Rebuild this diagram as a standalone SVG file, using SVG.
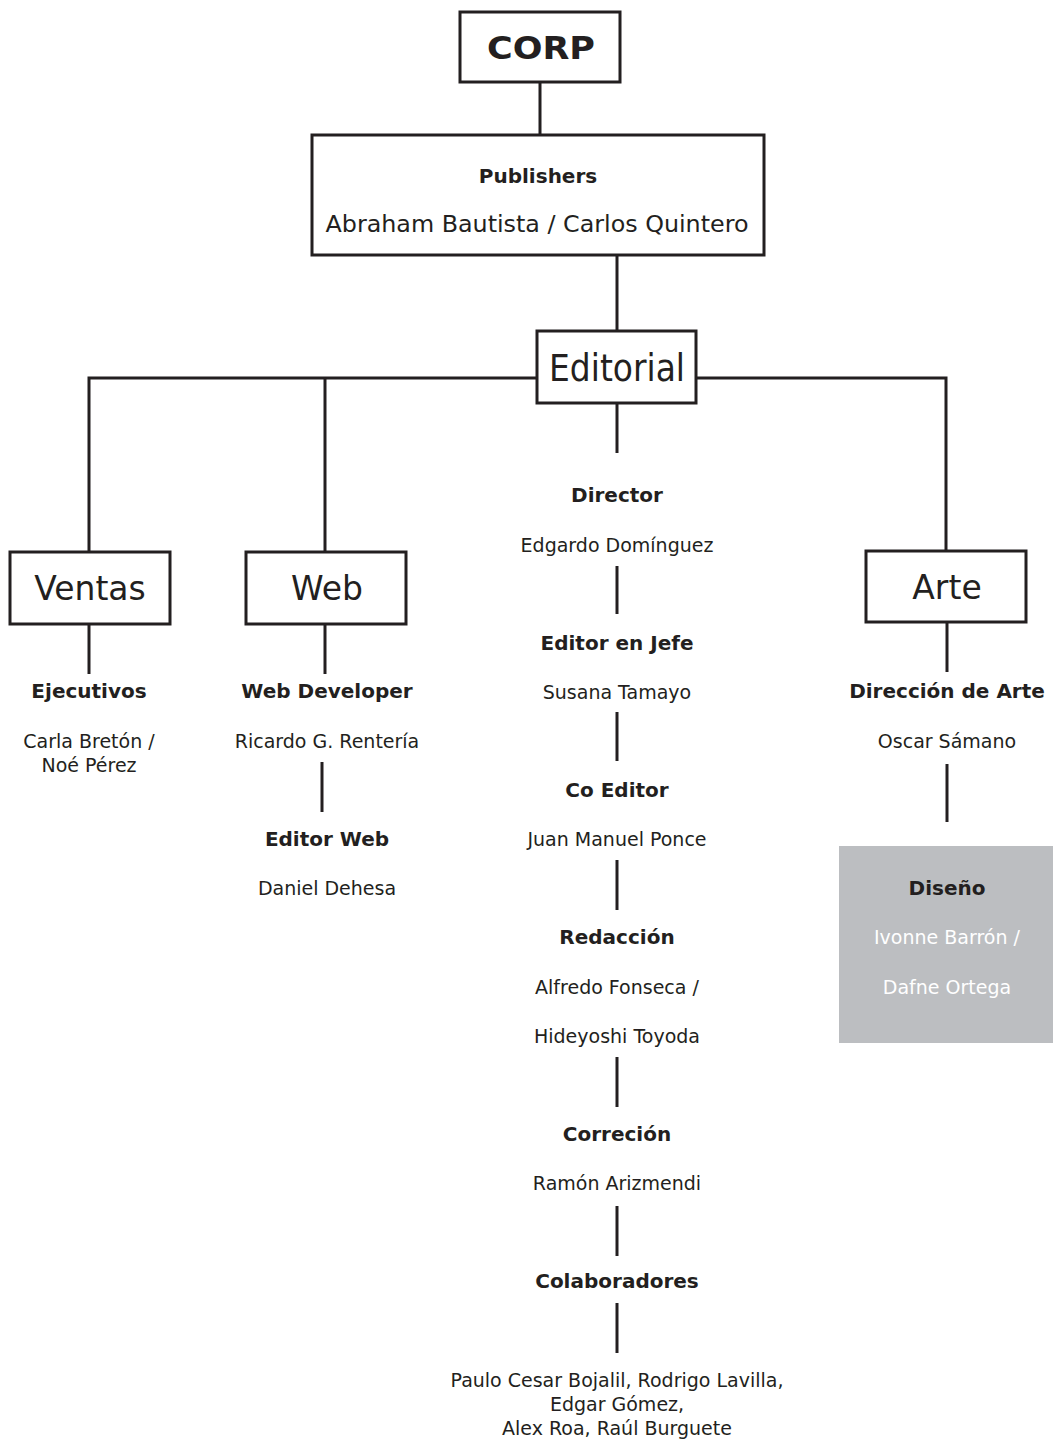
<svg xmlns="http://www.w3.org/2000/svg" width="1053" height="1441" viewBox="0 0 1053 1441">
<style>
.box{fill:#fff;stroke:#231f20;stroke-width:3}
.ln{stroke:#231f20;stroke-width:3;fill:none}
text{font-family:"DejaVu Sans","Liberation Sans",Arial,sans-serif;fill:#231f20;text-anchor:middle}
.h{font-weight:bold;font-size:20px}
.r{font-size:19px}
.big{font-size:33px}
.w{fill:#fff}
</style>
<rect width="1053" height="1441" fill="#fff"/>
<g id="connectors">
<line class="ln" x1="540" y1="82" x2="540" y2="135"/>
<line class="ln" x1="617" y1="255" x2="617" y2="331"/>
<polyline class="ln" points="89,551 89,378 537,378"/>
<line class="ln" x1="325" y1="378" x2="325" y2="551"/>
<polyline class="ln" points="696,378 946,378 946,551"/>
<line class="ln" x1="617" y1="403" x2="617" y2="453"/>
<line class="ln" x1="89" y1="624" x2="89" y2="674"/>
<line class="ln" x1="325" y1="624" x2="325" y2="674"/>
<line class="ln" x1="947" y1="622" x2="947" y2="672"/>
<line class="ln" x1="322" y1="762" x2="322" y2="812"/>
<line class="ln" x1="617" y1="566" x2="617" y2="614"/>
<line class="ln" x1="617" y1="712" x2="617" y2="761"/>
<line class="ln" x1="617" y1="860" x2="617" y2="910"/>
<line class="ln" x1="617" y1="1057" x2="617" y2="1107"/>
<line class="ln" x1="617" y1="1206" x2="617" y2="1256"/>
<line class="ln" x1="617" y1="1303" x2="617" y2="1353"/>
<line class="ln" x1="947" y1="764" x2="947" y2="822"/>
</g>
<g id="corp"><rect class="box" x="460" y="12" width="160" height="70"/><text x="541" y="59" style="font-weight:bold;font-size:32px" textLength="108" lengthAdjust="spacingAndGlyphs">CORP</text></g>
<g id="publishers"><rect class="box" x="312" y="135" width="452" height="120"/><text class="h" x="538" y="183">Publishers</text><text x="537" y="232" style="font-size:23px" textLength="423" lengthAdjust="spacingAndGlyphs">Abraham Bautista / Carlos Quintero</text></g>
<g id="editorial"><rect class="box" x="537" y="331" width="159" height="72"/><text x="617" y="381" style="font-size:37px" textLength="136" lengthAdjust="spacingAndGlyphs">Editorial</text></g>
<g id="ventas"><rect class="box" x="10" y="552" width="160" height="72"/><text class="big" x="90" y="600">Ventas</text></g>
<g id="web"><rect class="box" x="246" y="552" width="160" height="72"/><text class="big" x="327" y="600">Web</text></g>
<g id="arte"><rect class="box" x="866" y="551" width="160" height="71"/><text class="big" x="947" y="599">Arte</text></g>
<g id="ejecutivos"><text class="h" x="89" y="698">Ejecutivos</text><text class="r" x="89" y="748">Carla Bretón /</text><text class="r" x="89" y="772">Noé Pérez</text></g>
<g id="webdev"><text class="h" x="327" y="698">Web Developer</text><text class="r" x="327" y="748">Ricardo G. Rentería</text></g>
<g id="editorweb"><text class="h" x="327" y="846">Editor Web</text><text class="r" x="327" y="895">Daniel Dehesa</text></g>
<g id="director"><text class="h" x="617" y="502">Director</text><text class="r" x="617" y="552">Edgardo Domínguez</text></g>
<g id="editorjefe"><text class="h" x="617" y="650">Editor en Jefe</text><text class="r" x="617" y="699">Susana Tamayo</text></g>
<g id="coeditor"><text class="h" x="617" y="797">Co Editor</text><text class="r" x="617" y="846">Juan Manuel Ponce</text></g>
<g id="redaccion"><text class="h" x="617" y="944">Redacción</text><text class="r" x="617" y="994">Alfredo Fonseca /</text><text class="r" x="617" y="1043">Hideyoshi Toyoda</text></g>
<g id="correcion"><text class="h" x="617" y="1141">Correción</text><text class="r" x="617" y="1190">Ramón Arizmendi</text></g>
<g id="colaboradores"><text class="h" x="617" y="1288">Colaboradores</text><text class="r" x="617" y="1387">Paulo Cesar Bojalil, Rodrigo Lavilla,</text><text class="r" x="617" y="1411">Edgar Gómez,</text><text class="r" x="617" y="1435">Alex Roa, Raúl Burguete</text></g>
<g id="direccionarte"><text class="h" x="947" y="698">Dirección de Arte</text><text class="r" x="947" y="748">Oscar Sámano</text></g>
<g id="diseno"><rect x="839" y="846" width="214" height="197" fill="#bcbec1"/><text class="h" x="947" y="895">Diseño</text><text class="r w" x="947" y="944">Ivonne Barrón /</text><text class="r w" x="947" y="994">Dafne Ortega</text></g>
</svg>
